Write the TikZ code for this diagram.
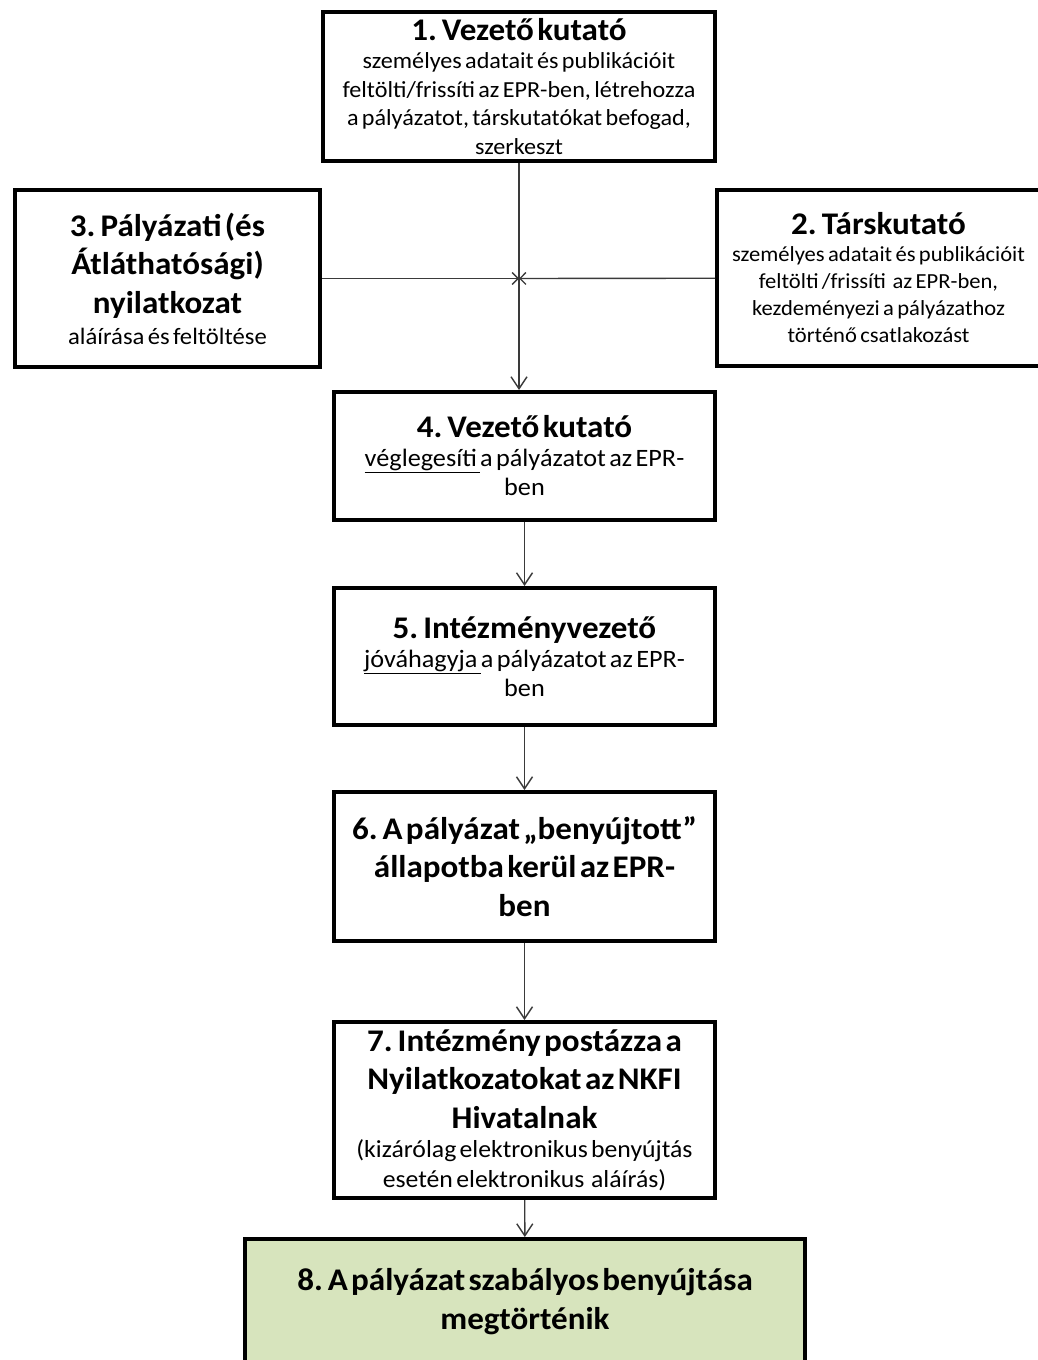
\documentclass[tikz,border=0pt]{standalone}
\usepackage{fontspec}
\setmainfont{Carlito}[FakeStretch=1.05, WordSpace=1.3]
\usetikzlibrary{arrows.meta}
\definecolor{zold}{HTML}{D7E4BD}
\definecolor{vonal}{HTML}{3A3A3A}
\newcommand{\cim}{\fontsize{31.5}{38.5}\selectfont\bfseries\fontdimen2\font=0.4em\relax}
\newcommand{\szov}[2]{\fontsize{#1}{#2}\selectfont}

\begin{document}
\begin{tikzpicture}[x=1pt, y=-1pt,
    doboz/.style={draw, line width=4pt, align=center, inner sep=0pt},
    nyil/.style={draw=vonal, line width=1.4pt, -{Straight Barb[length=12pt, width=16pt]}},
    kisnyil/.style={draw=vonal, line width=1.4pt, -{Straight Barb[length=6pt, width=12pt]}}]
    \useasboundingbox (0,0) rectangle (1038,1360);

    \node[doboz, minimum width=392pt, minimum height=149pt, text width=385pt] (vez) at (519,86.5)
        {{\cim 1. Vezető kutató\par}
        \szov{23}{28.5}személyes adatait és publikációit\\ feltölti/frissíti az EPR-ben, létrehozza\\ a pályázatot, társkutatókat befogad,\\ szerkeszt\par};
    \node[doboz, minimum width=323pt, minimum height=176pt, text width=310pt] (tars) at (878.5,278)
        {{\cim 2. Társkutató\par}
        \szov{21.5}{27}személyes adatait és publikációit\\ feltölti /frissíti\ \ az EPR-ben,\\ kezdeményezi a pályázathoz\\ történő csatlakozást\par};
    \node[doboz, minimum width=305pt, minimum height=177pt, text width=298pt] (nyil) at (167.5,278.5)
        {{\cim 3. Pályázati (és\\ Átláthatósági)\\ nyilatkozat\par}
        \szov{23.5}{31}aláírása és feltöltése\par};
    \node[doboz, minimum width=381pt, minimum height=128pt, text width=374pt] (veg) at (524.5,456)
        {{\cim 4. Vezető kutató\par}
        \szov{25}{29}\underline{véglegesíti\ }a pályázatot az EPR-\\ ben\par};
    \node[doboz, minimum width=381pt, minimum height=137pt, text width=374pt] (jov) at (524.5,656.5)
        {{\cim 5. Intézményvezető\par}
        \szov{25}{29}\underline{jóváhagyja\ }a pályázatot az EPR-\\ ben\par};
    \node[doboz, minimum width=381pt, minimum height=149pt, text width=374pt] (beny) at (524.5,866.5)
        {\cim 6. A pályázat „benyújtott”\\ állapotba kerül az EPR-\\ ben\par};
    \node[doboz, minimum width=381pt, minimum height=176pt, text width=374pt] (post) at (524.5,1110)
        {{\cim 7. Intézmény postázza a\\ Nyilatkozatokat az NKFI\\ Hivatalnak\par}
        \szov{24.5}{29.5}(kizárólag elektronikus benyújtás\\ esetén elektronikus\ \ aláírás)\par};
    \node[doboz, fill=zold, minimum width=560pt, minimum height=125pt, text width=550pt] (kesz) at (525,1301.5)
        {\cim 8. A pályázat szabályos benyújtása\\ megtörténik\par};

    \coordinate (x) at (vez |- nyil);
    \draw[kisnyil] (nyil) -- (x);
    \draw[kisnyil] (tars) -- (x);
    \draw[nyil] (vez) -- (vez |- veg.north);
    \draw[nyil] (veg) -- (jov);
    \draw[nyil] (jov) -- (beny);
    \draw[nyil] (beny) -- (post);
    \draw[nyil] (post) -- (kesz);
\end{tikzpicture}
\end{document}
